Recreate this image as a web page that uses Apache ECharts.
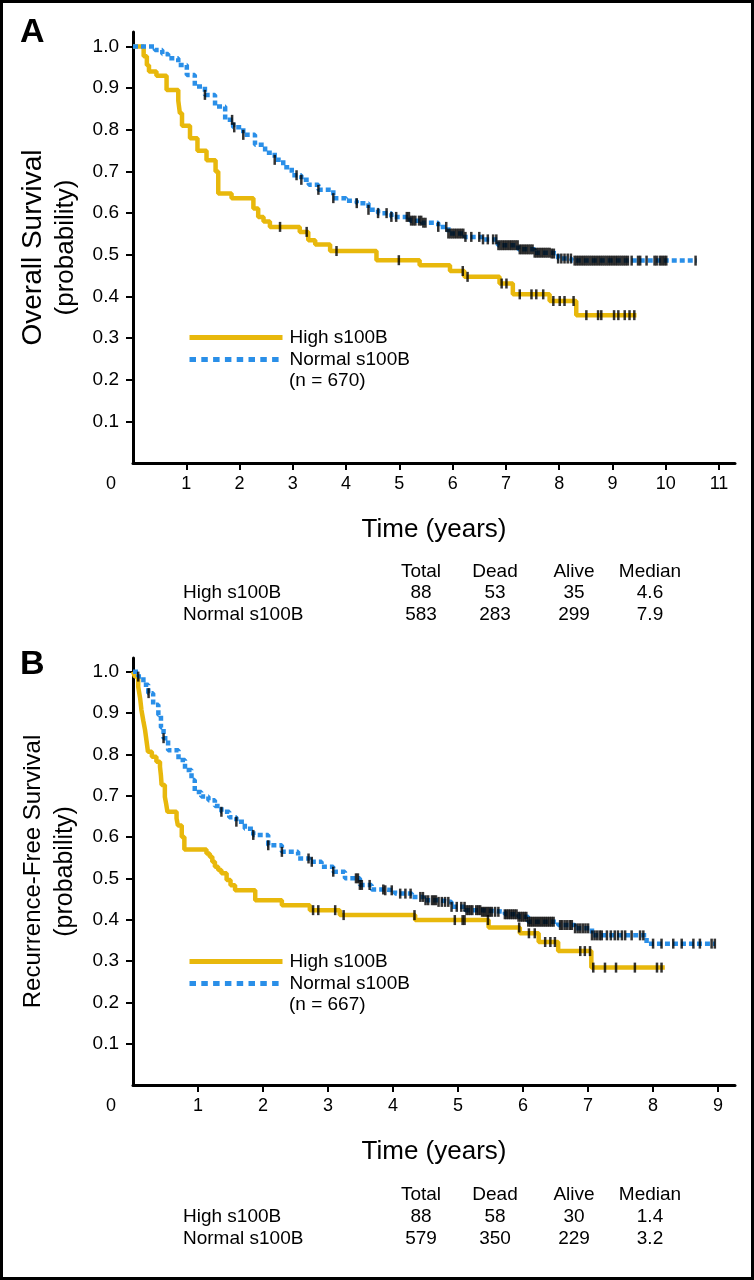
<!DOCTYPE html>
<html><head><meta charset="utf-8">
<script src="https://cdn.jsdelivr.net/npm/echarts@6/dist/echarts.min.js"></script>
<style>html,body{margin:0;padding:0;background:#fff}#c{width:754px;height:1280px}</style>
</head><body><div id="c"></div><script>
// ---------- DATA ----------
const seriesNames = ['High s100B', 'Normal s100B'];
const yTicks = [0.1, 0.2, 0.3, 0.4, 0.5, 0.6, 0.7, 0.8, 0.9, 1.0];
const xTicksA = [0, 1, 2, 3, 4, 5, 6, 7, 8, 9, 10, 11];
const xTicksB = [0, 1, 2, 3, 4, 5, 6, 7, 8, 9];

// Panel A: Overall Survival (step points [years, probability])
const highA = [[0,1.0],[0.2,0.977],[0.26,0.955],[0.3,0.94],[0.44,0.93],[0.63,0.896],[0.85,0.87],[0.88,0.84],[0.92,0.81],[1.07,0.78],[1.21,0.75],[1.38,0.727],[1.55,0.70],[1.6,0.647],[1.85,0.636],[2.26,0.611],[2.35,0.591],[2.45,0.58],[2.57,0.567],[3.13,0.555],[3.29,0.535],[3.42,0.525],[3.7,0.509],[4.57,0.487],[5.38,0.475],[5.95,0.461],[6.22,0.447],[6.88,0.431],[7.13,0.405],[7.82,0.389],[8.32,0.355],[9.45,0.355]];
const normalA = [[0,1.0],[0.23,1.0],[0.41,0.992],[0.55,0.982],[0.66,0.972],[0.85,0.956],[1.01,0.932],[1.16,0.904],[1.35,0.884],[1.54,0.856],[1.73,0.824],[1.88,0.806],[2.07,0.788],[2.29,0.764],[2.48,0.745],[2.66,0.728],[2.82,0.71],[2.98,0.691],[3.16,0.68],[3.3,0.668],[3.48,0.656],[3.76,0.636],[4.0,0.63],[4.2,0.624],[4.42,0.608],[4.6,0.6],[4.85,0.591],[5.2,0.582],[5.42,0.577],[5.73,0.567],[5.92,0.551],[6.23,0.543],[6.54,0.537],[6.85,0.523],[7.23,0.513],[7.54,0.505],[7.85,0.503],[7.98,0.491],[8.23,0.486],[10.58,0.486]];
const censorHighA = [2.76,3.26,3.82,4.99,6.19,6.28,6.92,7.01,7.26,7.48,7.57,7.7,7.89,8.01,8.1,8.27,8.51,8.73,8.79,9.03,9.11,9.23,9.32,9.41];
const censorNormalA = [1.35,1.86,1.9,2.07,2.66,3.07,3.16,3.48,3.76,4.2,4.42,4.6,4.76,4.85,4.94,5.14,5.18,5.22,5.26,5.3,5.37,5.41,5.45,5.49,5.73,5.88,5.92,5.96,6.0,6.04,6.08,6.12,6.16,6.2,6.24,6.35,6.5,6.57,6.66,6.76,6.82,6.86,6.9,6.94,6.98,7.02,7.06,7.1,7.14,7.18,7.22,7.26,7.3,7.34,7.38,7.42,7.46,7.5,7.54,7.58,7.62,7.66,7.7,7.74,7.78,7.82,7.86,7.9,7.98,8.04,8.1,8.16,8.22,8.29,8.33,8.37,8.41,8.45,8.49,8.53,8.57,8.61,8.65,8.69,8.73,8.77,8.81,8.85,8.89,8.93,8.97,9.01,9.05,9.09,9.13,9.17,9.21,9.25,9.29,9.36,9.48,9.52,9.64,9.79,9.83,9.89,9.93,9.97,10.01,10.56];

// Panel B: Recurrence-Free Survival
const highB = [[0,1.0],[0.03,0.988],[0.08,0.964],[0.11,0.935],[0.13,0.907],[0.16,0.88],[0.185,0.859],[0.21,0.83],[0.23,0.806],[0.29,0.794],[0.36,0.782],[0.415,0.77],[0.43,0.748],[0.44,0.726],[0.49,0.697],[0.51,0.68],[0.53,0.661],[0.67,0.645],[0.69,0.628],[0.75,0.6],[0.79,0.57],[1.13,0.56],[1.18,0.552],[1.22,0.54],[1.26,0.528],[1.31,0.52],[1.36,0.512],[1.44,0.496],[1.5,0.483],[1.57,0.471],[1.88,0.447],[2.29,0.435],[2.72,0.423],[3.18,0.411],[4.34,0.399],[5.47,0.381],[5.95,0.367],[6.24,0.346],[6.54,0.324],[7.05,0.284],[8.18,0.284]];
const normalB = [[0,1.0],[0.08,0.988],[0.16,0.968],[0.235,0.948],[0.31,0.92],[0.39,0.895],[0.43,0.865],[0.47,0.839],[0.54,0.81],[0.7,0.786],[0.8,0.762],[0.9,0.738],[0.95,0.709],[1.05,0.698],[1.16,0.689],[1.26,0.675],[1.36,0.661],[1.48,0.648],[1.59,0.637],[1.72,0.62],[1.85,0.605],[2.08,0.58],[2.29,0.564],[2.54,0.548],[2.72,0.54],[2.9,0.528],[3.08,0.516],[3.26,0.5],[3.49,0.484],[3.67,0.473],[3.88,0.471],[4.03,0.463],[4.29,0.455],[4.47,0.447],[4.7,0.443],[4.9,0.431],[5.11,0.423],[5.36,0.419],[5.72,0.413],[5.93,0.407],[6.08,0.395],[6.54,0.387],[6.8,0.379],[7.06,0.362],[7.9,0.342],[8.95,0.342]];
const censorHighB = [2.77,2.85,3.11,3.24,4.33,4.95,5.07,5.1,5.46,5.94,6.09,6.18,6.34,6.42,6.49,6.88,6.95,7.03,7.08,7.26,7.43,7.72,8.06,8.13];
const censorNormalB = [0.08,0.24,0.47,1.36,1.59,1.85,2.08,2.29,2.7,2.75,3.08,3.43,3.46,3.49,3.52,3.64,3.85,3.88,3.98,4.11,4.19,4.27,4.42,4.46,4.5,4.54,4.6,4.63,4.66,4.7,4.75,4.8,4.85,4.9,4.98,5.05,5.1,5.13,5.16,5.19,5.22,5.28,5.31,5.34,5.37,5.4,5.43,5.46,5.49,5.52,5.57,5.62,5.72,5.75,5.78,5.81,5.84,5.87,5.9,5.93,5.96,5.99,6.02,6.05,6.08,6.11,6.14,6.17,6.2,6.23,6.26,6.29,6.32,6.35,6.38,6.41,6.44,6.47,6.57,6.6,6.64,6.68,6.72,6.75,6.8,6.84,6.88,6.92,6.96,7.0,7.06,7.1,7.14,7.18,7.21,7.29,7.35,7.41,7.46,7.52,7.57,7.67,7.8,7.85,8.0,8.13,8.31,8.44,8.62,8.72,8.9,8.95];

// Summary tables
const tableHeader = ['Total', 'Dead', 'Alive', 'Median'];
const tableA = [['High s100B', '88', '53', '35', '4.6'], ['Normal s100B', '583', '283', '299', '7.9']];
const tableB = [['High s100B', '88', '58', '30', '1.4'], ['Normal s100B', '579', '350', '229', '3.2']];
const nA = '(n = 670)';
const nB = '(n = 667)';

// ---------- STYLE / LAYOUT ----------
const FONT = '"Liberation Sans", Arial, Helvetica, sans-serif';
const YEL = '#E8B80C';
const BLUE = '#2A8FE8';

function stepValue(curve, t) {
  let v = curve[0][1];
  for (const p of curve) { if (p[0] <= t) v = p[1]; else break; }
  return v;
}

function xAxisCfg(idx, max, ticks) {
  return {
    type: 'value', gridIndex: idx, min: 0, max: max,
    name: 'Time (years)', nameLocation: 'middle', nameGap: 54,
    nameTextStyle: { fontFamily: FONT, fontSize: 26, color: '#000' },
    axisLine: { show: true, onZero: false, lineStyle: { color: '#000', width: 3 } },
    axisTick: { show: true, length: 7, lineStyle: { color: '#000', width: 2 }, customValues: ticks.filter(v => v !== 0) },
    axisLabel: {
      customValues: ticks, margin: 12, color: '#000', fontFamily: FONT, fontSize: 18,
      formatter: v => v === 0 ? '{z|0}' : String(v),
      rich: { z: { fontFamily: FONT, fontSize: 18, color: '#000', padding: [0, 44, 0, 0] } }
    },
    splitLine: { show: false }
  };
}
function yAxisCfg(idx, max, name, s1, s2) {
  return {
    type: 'value', gridIndex: idx, min: 0, max: max,
    name: name, nameLocation: 'middle', nameGap: 52,
    nameTextStyle: {
      fontFamily: FONT, color: '#000',
      rich: {
        a: { fontFamily: FONT, fontSize: s1, lineHeight: 33, color: '#000' },
        b: { fontFamily: FONT, fontSize: s2, lineHeight: 31, color: '#000' }
      }
    },
    axisLine: { show: true, lineStyle: { color: '#000', width: 3 } },
    axisTick: { show: true, length: 7, lineStyle: { color: '#000', width: 2 }, customValues: yTicks },
    axisLabel: { customValues: yTicks, margin: 14, color: '#000', fontFamily: FONT, fontSize: 19, formatter: v => v.toFixed(1) },
    splitLine: { show: false }
  };
}
function lineSeries(name, idx, data, color, dashed, z) {
  return {
    type: 'line', name: name, xAxisIndex: idx, yAxisIndex: idx, data: data, step: 'end',
    symbol: 'none', silent: true, z: z,
    lineStyle: { color: color, width: 4.5, type: dashed ? [5, 3] : 'solid', cap: 'butt' },
    itemStyle: { color: color }
  };
}
function censorSeries(idx, times, curve) {
  return {
    type: 'scatter', xAxisIndex: idx, yAxisIndex: idx, silent: true, z: 6,
    data: times.map(t => [t, stepValue(curve, t)]),
    symbol: 'rect', symbolSize: [2.5, 10], itemStyle: { color: '#000' }
  };
}
function legendCfg(top) {
  return {
    data: [
      { name: seriesNames[0], itemStyle: { opacity: 0 }, lineStyle: { width: 5, type: 'solid', color: YEL } },
      { name: seriesNames[1], itemStyle: { opacity: 0 }, lineStyle: { width: 5, type: [6.5, 5.3], color: BLUE } }
    ],
    left: 182, top: top, orient: 'vertical',
    itemWidth: 93, itemHeight: 14, itemGap: 3, selectedMode: false,
    textStyle: { fontFamily: FONT, fontSize: 19, color: '#000', padding: [0, 0, 0, 2] }
  };
}
function tableGraphics(rows, headerY, rowY) {
  const colX = [421, 495, 574, 650];
  const els = [];
  const f = '19px ' + FONT;
  tableHeader.forEach((h, i) => els.push({ type: 'text', x: colX[i], y: headerY, style: { text: h, font: f, fill: '#000', textAlign: 'center', textVerticalAlign: 'middle' } }));
  rows.forEach((r, j) => {
    els.push({ type: 'text', x: 183, y: rowY[j], style: { text: r[0], font: f, fill: '#000', textAlign: 'left', textVerticalAlign: 'middle' } });
    for (let i = 1; i < r.length; i++) {
      els.push({ type: 'text', x: colX[i - 1], y: rowY[j], style: { text: r[i], font: f, fill: '#000', textAlign: 'center', textVerticalAlign: 'middle' } });
    }
  });
  return els;
}

const chart = echarts.init(document.getElementById('c'), null, { renderer: 'canvas' });
chart.setOption({
  animation: false,
  backgroundColor: '#fff',
  grid: [
    { left: 133, top: 32, width: 602, height: 431 },
    { left: 133, top: 658, width: 602, height: 427 }
  ],
  xAxis: [xAxisCfg(0, 11.3, xTicksA), xAxisCfg(1, 9.26, xTicksB)],
  yAxis: [
    yAxisCfg(0, 1.035, '{a|Overall Survival}\n{b|(probability)}', 28, 26),
    yAxisCfg(1, 1.033, '{a|Recurrence-Free Survival}\n{b|(probability)}', 24, 25)
  ],
  legend: [legendCfg(323), legendCfg(947)],
  series: [
    lineSeries(seriesNames[0], 0, highA, YEL, false, 3),
    lineSeries(seriesNames[1], 0, normalA, BLUE, true, 4),
    censorSeries(0, censorHighA, highA),
    censorSeries(0, censorNormalA, normalA),
    lineSeries(seriesNames[0], 1, highB, YEL, false, 3),
    lineSeries(seriesNames[1], 1, normalB, BLUE, true, 4),
    censorSeries(1, censorHighB, highB),
    censorSeries(1, censorNormalB, normalB)
  ],
  graphic: [
    { type: 'rect', shape: { x: 1.5, y: 1.5, width: 751, height: 1277 }, style: { fill: null, stroke: '#000', lineWidth: 3 }, silent: true },
    { type: 'text', x: 20, y: 33, style: { text: 'A', font: 'bold 34px ' + FONT, fill: '#000', textVerticalAlign: 'middle' } },
    { type: 'text', x: 20, y: 665, style: { text: 'B', font: 'bold 34px ' + FONT, fill: '#000', textVerticalAlign: 'middle' } },
    { type: 'text', x: 289, y: 381, style: { text: nA, font: '19px ' + FONT, fill: '#000', textVerticalAlign: 'middle' } },
    { type: 'text', x: 289, y: 1005, style: { text: nB, font: '19px ' + FONT, fill: '#000', textVerticalAlign: 'middle' } }
  ].concat(tableGraphics(tableA, 572, [593, 615]), tableGraphics(tableB, 1195, [1217, 1239]))
});
</script></body></html>
